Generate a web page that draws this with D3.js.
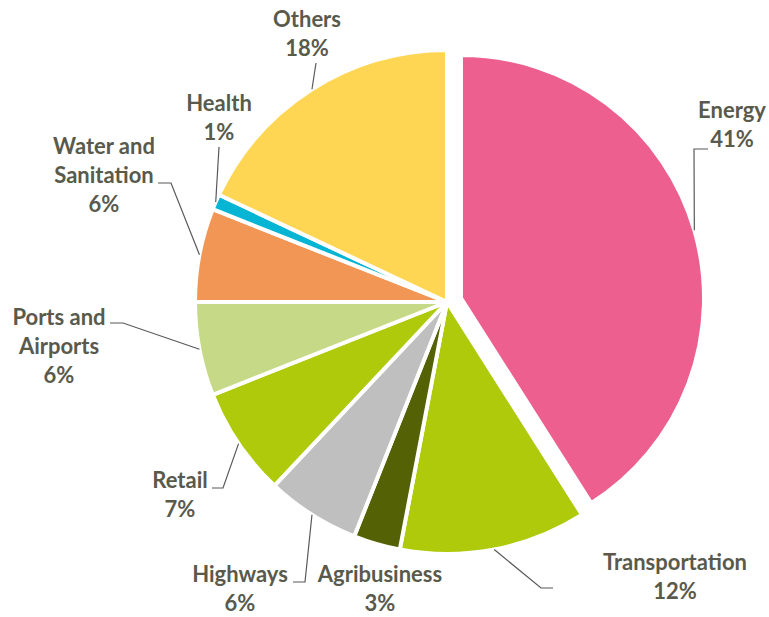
<!DOCTYPE html>
<html>
<head>
<meta charset="utf-8">
<script src="https://cdn.jsdelivr.net/npm/d3@7"></script>
<style>
  html, body { margin: 0; padding: 0; background: #ffffff; }
  svg { display: block; }
</style>
</head>
<body>
<svg id="chart" width="769" height="617"></svg>
<script>
// Investment share by sector (%)
const categories = ["Energy", "Transportation", "Agribusiness", "Highways", "Retail",
                    "Ports and Airports", "Water and Sanitation", "Health", "Others"];
const shares = [41, 12, 3, 6, 7, 6, 6, 1, 18];
const nameLines = [["Energy"], ["Transportation"], ["Agribusiness"], ["Highways"], ["Retail"],
                   ["Ports and", "Airports"], ["Water and", "Sanitation"], ["Health"], ["Others"]];
const sliceColors = ["#EC5F8E", "#AFCA0B", "#546104", "#BFBFBF", "#AFCA0B",
                     "#C6D986", "#F29656", "#05B5D3", "#FED653"];
const explodedIndex = 0;

// Label layout: text centre x, first baseline y, and leader path after the rim point
const labelLayout = [
  { x: 732, y: 118, leader: [[694, 149], [708, 149]] },
  { x: 675, y: 570, leader: [[541, 588], [553, 588]] },
  { x: 380, y: 582, leader: null },
  { x: 240, y: 582, leader: [[305, 582], [293, 582]] },
  { x: 180, y: 488, leader: [[223, 488], [212, 488]] },
  { x: 59,  y: 325, leader: [[123, 323], [110, 323]] },
  { x: 104, y: 154, leader: [[171, 183], [158, 183]] },
  { x: 219, y: 111, leader: [[219, 147]] },
  { x: 307, y: 27,  leader: [[316, 63]] }
];

const width = 769, height = 617;
const cx = 447, cy = 302;
const radius = 252;
const explodedRadius = 243;
const explodeShift = [14, -4];
const lineHeight = 29;
const textColor = "#595A4B";

const svg = d3.select("#chart");
svg.append("rect").attr("width", width).attr("height", height).attr("fill", "#ffffff");

const pie = d3.pie().sort(null).value(d => d)
  .startAngle(0).endAngle(2 * Math.PI);
const arcs = pie(shares);

const arcMain = d3.arc().innerRadius(0).outerRadius(radius);
const arcExploded = d3.arc().innerRadius(0).outerRadius(explodedRadius);

const g = svg.append("g").attr("transform", `translate(${cx},${cy})`);

g.selectAll("path.slice")
  .data(arcs)
  .join("path")
  .attr("class", "slice")
  .attr("d", (d, i) => i === explodedIndex ? arcExploded(d) : arcMain(d))
  .attr("transform", (d, i) => i === explodedIndex
        ? `translate(${explodeShift[0]},${explodeShift[1]})` : null)
  .attr("fill", (d, i) => sliceColors[i])
  .attr("stroke", "#ffffff")
  .attr("stroke-width", 4)
  .attr("stroke-linejoin", "round");

// Rim point at the middle angle of each slice (page coordinates)
function rimPoint(d, i) {
  const a = (d.startAngle + d.endAngle) / 2;
  const exploded = i === explodedIndex;
  const r = exploded ? explodedRadius : radius;
  const ox = exploded ? explodeShift[0] : 0;
  const oy = exploded ? explodeShift[1] : 0;
  return [cx + ox + r * Math.sin(a), cy + oy - r * Math.cos(a)];
}

// Leader lines
const line = d3.line();
svg.append("g")
  .selectAll("path.leader")
  .data(arcs.filter((d, i) => labelLayout[i].leader))
  .join("path")
  .attr("class", "leader")
  .attr("d", d => {
    const i = d.index;
    return line([rimPoint(d, i), ...labelLayout[i].leader]);
  })
  .attr("fill", "none")
  .attr("stroke", "#595959")
  .attr("stroke-width", 1.2);

// Labels: category name lines followed by the share
const labels = svg.append("g")
  .attr("font-family", "Lato, 'Open Sans', sans-serif")
  .attr("font-weight", 700)
  .attr("font-size", 22)
  .attr("fill", textColor)
  .attr("text-anchor", "middle");

categories.forEach((c, i) => {
  const lines = nameLines[i].concat([shares[i] + "%"]);
  const t = labels.append("text")
    .attr("x", labelLayout[i].x)
    .attr("y", labelLayout[i].y);
  lines.forEach((s, k) => {
    t.append("tspan")
      .attr("x", labelLayout[i].x)
      .attr("dy", k === 0 ? 0 : lineHeight)
      .text(s);
  });
});
</script>
</body>
</html>
